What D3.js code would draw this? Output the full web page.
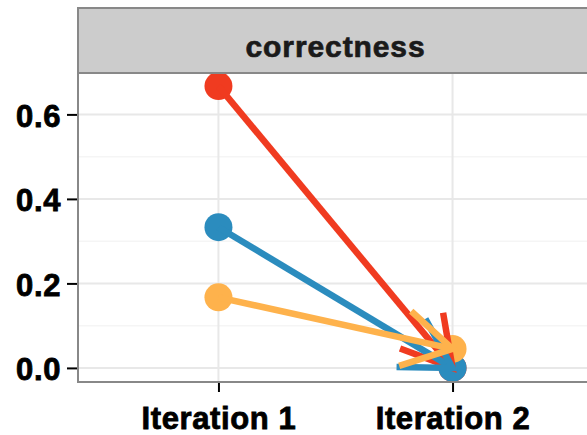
<!DOCTYPE html>
<html>
<head>
<meta charset="utf-8">
<script src="https://cdn.jsdelivr.net/npm/d3@7"></script>
<style>
  body { margin: 0; background: #fff; }
  svg { display: block; font-family: "Liberation Sans", Arial, sans-serif; }
</style>
</head>
<body>
<div id="chart"></div>
<script>
// data
const iterations = ["Iteration 1", "Iteration 2"];
const seriesNames = ["a", "b", "c"];          // drawing order
const seriesColors = ["#f03b20", "#2b8cbe", "#feb24c"];
const valuesA = [0.667, 0.0];
const valuesB = [0.333, 0.0];
const valuesC = [0.167, 0.045];
const yTicks = [0, 0.2, 0.4, 0.6];
const yMinor = [0.1, 0.3, 0.5];
const panelTitle = "correctness";

const width = 587, height = 435;
const panel = { left: 78, right: 593, top: 72, bottom: 382 };
const strip = { top: 8, bottom: 73 };

const series = seriesNames.map((name, i) => ({
    name,
    color: seriesColors[i],
    values: [valuesA, valuesB, valuesC][i]
}));

const svg = d3.select("#chart").append("svg")
    .attr("width", width)
    .attr("height", height);

// discrete x with ggplot-like 0.6 expansion
const x = d3.scalePoint()
    .domain(iterations)
    .range([panel.left, panel.right])
    .padding(0.6);

const yMax = d3.max(series, s => d3.max(s.values));
const pad = yMax * 0.05;
const y = d3.scaleLinear()
    .domain([-pad, yMax + pad])
    .range([panel.bottom, panel.top]);

// panel background + grid
svg.append("rect")
    .attr("x", panel.left).attr("y", panel.top)
    .attr("width", panel.right - panel.left)
    .attr("height", panel.bottom - panel.top)
    .attr("fill", "#fff");

const grid = svg.append("g");
grid.selectAll("line.minor").data(yMinor).join("line")
    .attr("x1", panel.left).attr("x2", panel.right)
    .attr("y1", d => y(d)).attr("y2", d => y(d))
    .attr("stroke", "#f5f5f5").attr("stroke-width", 1.5);
grid.selectAll("line.major").data(yTicks).join("line")
    .attr("x1", panel.left).attr("x2", panel.right)
    .attr("y1", d => y(d)).attr("y2", d => y(d))
    .attr("stroke", "#e8e8e8").attr("stroke-width", 2);
grid.selectAll("line.vert").data(iterations).join("line")
    .attr("x1", d => x(d)).attr("x2", d => x(d))
    .attr("y1", panel.top).attr("y2", panel.bottom)
    .attr("stroke", "#e8e8e8").attr("stroke-width", 2);

// points (under the arrows)
const pts = svg.append("g");
series.forEach(s => {
    pts.selectAll(null).data(s.values).join("circle")
        .attr("cx", (d, i) => x(iterations[i]))
        .attr("cy", d => y(d))
        .attr("r", 14)
        .attr("fill", s.color);
});

// segments with open arrow heads
const arrowLen = 56, arrowAngle = Math.PI / 6;
const segs = svg.append("g")
    .attr("fill", "none")
    .attr("stroke-width", 6.5)
    .attr("stroke-linejoin", "miter")
    .attr("stroke-miterlimit", 10);
series.forEach(s => {
    const x0 = x(iterations[0]), y0 = y(s.values[0]);
    const x1 = x(iterations[1]), y1 = y(s.values[1]);
    const back = Math.atan2(y0 - y1, x0 - x1);
    const w1 = [x1 + arrowLen * Math.cos(back + arrowAngle), y1 + arrowLen * Math.sin(back + arrowAngle)];
    const w2 = [x1 + arrowLen * Math.cos(back - arrowAngle), y1 + arrowLen * Math.sin(back - arrowAngle)];
    segs.append("line")
        .attr("x1", x0).attr("y1", y0).attr("x2", x1).attr("y2", y1)
        .attr("stroke", s.color);
    segs.append("path")
        .attr("d", d3.line()([w1, [x1, y1], w2]))
        .attr("stroke", s.color);
});

// panel border (left + bottom visible, right is cut off)
svg.append("rect")
    .attr("x", panel.left).attr("y", panel.top)
    .attr("width", panel.right - panel.left)
    .attr("height", panel.bottom - panel.top)
    .attr("fill", "none").attr("stroke", "#888").attr("stroke-width", 2);

// facet strip
svg.append("rect")
    .attr("x", panel.left).attr("y", strip.top)
    .attr("width", panel.right - panel.left)
    .attr("height", strip.bottom - strip.top)
    .attr("fill", "#cccccc").attr("stroke", "#888").attr("stroke-width", 2);
svg.append("text")
    .attr("x", (panel.left + panel.right) / 2)
    .attr("y", 57)
    .attr("text-anchor", "middle")
    .attr("font-size", 30)
    .attr("font-weight", "bold")
    .attr("letter-spacing", 0.9)
    .attr("fill", "#1a1a1a")
    .attr("stroke", "#1a1a1a")
    .attr("stroke-width", 0.7)
    .text(panelTitle);

// axes
const yAxis = svg.append("g")
    .attr("transform", `translate(${panel.left - 1},0)`)
    .call(d3.axisLeft(y).tickValues(yTicks).tickFormat(d3.format(".1f")).tickSize(10).tickPadding(6));
const xAxis = svg.append("g")
    .attr("transform", `translate(0,${panel.bottom + 1})`)
    .call(d3.axisBottom(x).tickSize(9).tickPadding(10));

[yAxis, xAxis].forEach(a => {
    a.select(".domain").remove();
    a.selectAll(".tick line").attr("stroke", "#000").attr("stroke-width", 2);
    a.selectAll(".tick text")
        .attr("fill", "#000")
        .attr("stroke", "#000")
        .attr("stroke-width", 0.8)
        .attr("font-size", 31)
        .attr("font-weight", "bold")
        .attr("letter-spacing", 0.6)
        .attr("font-family", "Liberation Sans, Arial, sans-serif");
});
yAxis.selectAll(".tick text").attr("dy", "0.38em");
xAxis.selectAll(".tick text").attr("dy", "0.88em");
</script>
</body>
</html>
